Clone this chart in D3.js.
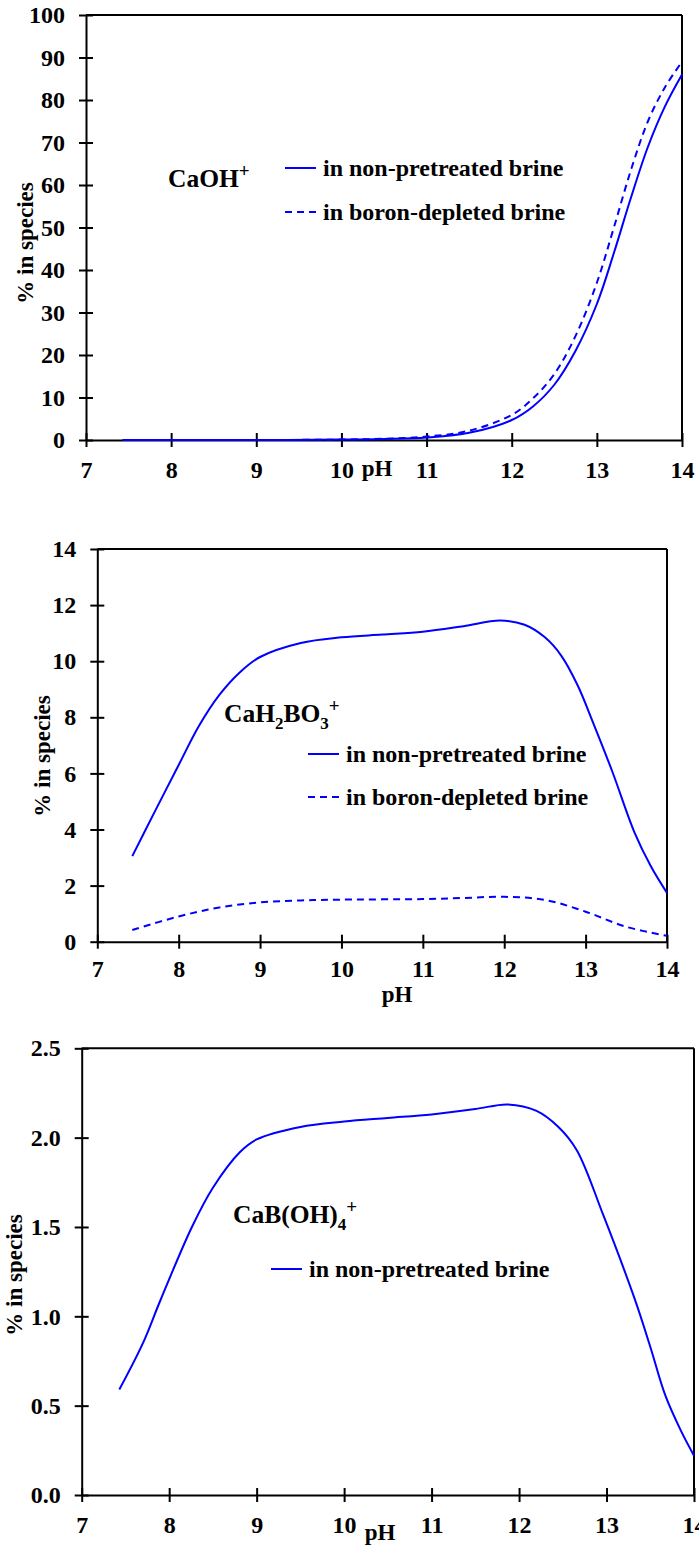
<!DOCTYPE html>
<html>
<head>
<meta charset="utf-8">
<script src="https://cdn.jsdelivr.net/npm/d3@7"></script>
<style>
  body { margin: 0; background: #fff; }
  svg text { font-family: "Liberation Serif", "Times New Roman", serif !important; font-weight: bold; fill: #000; }
</style>
</head>
<body>
<div id="chart"></div>
<script>
// x axis (pH) shared by the three panels
const phTicks = [7, 8, 9, 10, 11, 12, 13, 14];

// panel 1 : CaOH+
const caohPH = [7.43, 8, 9, 10, 10.5, 11, 11.5, 12, 12.25, 12.5, 12.75, 13, 13.2, 13.4, 13.6, 13.8, 14];
const caohNonPretreated = [0, 0, 0, 0.1, 0.25, 0.6, 1.7, 4.7, 7.9, 13, 21, 32, 44, 57, 69, 78.5, 86];
const caohBoronDepleted = [0, 0, 0, 0.1, 0.3, 0.8, 2.2, 5.9, 9.8, 15.5, 24.5, 37, 50, 63.5, 75, 83, 89];
const caohTicks = [0, 10, 20, 30, 40, 50, 60, 70, 80, 90, 100];

// panel 2 : CaH2BO3+
const cah2bo3PH = [7.43, 7.7, 8, 8.25, 8.5, 8.75, 9, 9.5, 10, 10.5, 11, 11.5, 11.95, 12.25, 12.5, 12.7, 12.9, 13.1, 13.33, 13.6, 13.8, 14];
const cah2bo3NonPretreated = [3.05, 4.6, 6.3, 7.7, 8.8, 9.6, 10.15, 10.65, 10.85, 10.95, 11.05, 11.25, 11.45, 11.3, 10.85, 10.2, 9.15, 7.75, 6.05, 3.9, 2.7, 1.74];
const cah2bo3DepPH = [7.43, 8, 8.5, 9, 9.5, 10, 11, 11.5, 12, 12.5, 13, 13.5, 14];
const cah2bo3BoronDepleted = [0.42, 0.9, 1.22, 1.4, 1.47, 1.5, 1.52, 1.56, 1.6, 1.49, 1.07, 0.53, 0.21];
const cah2bo3Ticks = [0, 2, 4, 6, 8, 10, 12, 14];

// panel 3 : CaB(OH)4+
const cabPH = [7.43, 7.7, 7.9, 8.26, 8.5, 8.81, 9, 9.5, 10, 10.5, 11, 11.5, 11.87, 12.2, 12.45, 12.66, 12.96, 13.32, 13.5, 13.67, 13.85, 14];
const cabNonPretreated = [0.59, 0.85, 1.09, 1.5, 1.72, 1.92, 1.99, 2.06, 2.09, 2.11, 2.13, 2.16, 2.186, 2.15, 2.06, 1.93, 1.57, 1.1, 0.83, 0.56, 0.36, 0.22];
const cabTicks = [0, 0.5, 1.0, 1.5, 2.0, 2.5];

const blue = '#0000ff';
const serif = '"Liberation Serif", "Times New Roman", serif';

const panels = [
  {
    left: 86, right: 682, top: 15, bottom: 440, yMax: 100, yTicks: caohTicks, yFormat: d3.format('d'),
    xPad: 14, yLabelX: 25, yLabelY: 243, phX: 377, phY: 476,
    title: [['CaOH', 0], ['+', -1]], titleX: 168, titleY: 187,
    series: [
      { ph: caohPH, values: caohNonPretreated, dash: null, label: 'in non-pretreated brine' },
      { ph: caohPH, values: caohBoronDepleted, dash: '7,5', label: 'in boron-depleted brine' }
    ],
    legendX: 285, legendY: 176, legendGap: 44
  },
  {
    left: 97.3, right: 667, top: 549, bottom: 941.7, yMax: 14, yTicks: cah2bo3Ticks, yFormat: d3.format('d'),
    xPad: 11, yLabelX: 42, yLabelY: 756, phX: 397, phY: 1002,
    title: [['CaH', 0], ['2', 1], ['BO', 0], ['3', 1], ['+', -1]], titleX: 224, titleY: 722,
    series: [
      { ph: cah2bo3PH, values: cah2bo3NonPretreated, dash: null, label: 'in non-pretreated brine' },
      { ph: cah2bo3DepPH, values: cah2bo3BoronDepleted, dash: '7,5', label: 'in boron-depleted brine' }
    ],
    legendX: 308, legendY: 762, legendGap: 43
  },
  {
    left: 81.7, right: 694, top: 1048.3, bottom: 1495, yMax: 2.5, yTicks: cabTicks, yFormat: d3.format('.1f'),
    xPad: 14, yLabelX: 14, yLabelY: 1275, phX: 380, phY: 1540,
    title: [['CaB(OH)', 0], ['4', 1], ['+', -1]], titleX: 233, titleY: 1223,
    series: [
      { ph: cabPH, values: cabNonPretreated, dash: null, label: 'in non-pretreated brine' }
    ],
    legendX: 271, legendY: 1277, legendGap: 44
  }
];

const svg = d3.select('#chart')
  .append('svg')
  .attr('width', 699)
  .attr('height', 1555)
  .attr('font-family', serif);

panels.forEach(p => {
  const x = d3.scaleLinear().domain([7, 14]).range([p.left, p.right]);
  const y = d3.scaleLinear().domain([0, p.yMax]).range([p.bottom, p.top]);
  const g = svg.append('g');

  // top and right side of the box
  g.append('line')
    .attr('x1', p.left).attr('x2', p.right)
    .attr('y1', p.top).attr('y2', p.top)
    .attr('stroke', '#000').attr('stroke-width', 2);
  g.append('line')
    .attr('x1', p.right).attr('x2', p.right)
    .attr('y1', p.top).attr('y2', p.bottom)
    .attr('stroke', '#000').attr('stroke-width', 2);

  // y axis, ticks cross the axis line
  const yAxis = g.append('g')
    .attr('transform', `translate(${p.left},0)`)
    .call(d3.axisLeft(y).tickValues(p.yTicks).tickFormat(p.yFormat).tickSize(7).tickSizeOuter(0).tickPadding(14));
  yAxis.selectAll('.tick line').attr('x1', 7);

  // x axis
  const xAxis = g.append('g')
    .attr('transform', `translate(0,${p.bottom})`)
    .call(d3.axisBottom(x).tickValues(phTicks).tickFormat(d3.format('d')).tickSize(7).tickSizeOuter(0).tickPadding(p.xPad));
  xAxis.selectAll('.tick line').attr('y1', -7);

  [yAxis, xAxis].forEach(a => {
    a.attr('font-size', 24).attr('font-family', serif);
    a.selectAll('text').attr('font-family', serif).attr('font-weight', 'bold');
    a.selectAll('path, line').attr('stroke', '#000').attr('stroke-width', 2);
  });

  // axis titles
  g.append('text')
    .attr('transform', `translate(${p.yLabelX},${p.yLabelY}) rotate(-90)`)
    .attr('text-anchor', 'middle')
    .attr('dy', '0.35em')
    .attr('font-size', 23)
    .text('% in species');

  g.append('text')
    .attr('x', p.phX)
    .attr('y', p.phY)
    .attr('text-anchor', 'middle')
    .attr('font-size', 23)
    .text('pH');

  // curves
  const line = d3.line()
    .x(d => x(d[0]))
    .y(d => y(d[1]))
    .curve(d3.curveCatmullRom.alpha(0.5));

  p.series.forEach((s, i) => {
    g.append('path')
      .datum(d3.zip(s.ph, s.values))
      .attr('fill', 'none')
      .attr('stroke', blue)
      .attr('stroke-width', 2)
      .attr('stroke-dasharray', s.dash)
      .attr('d', line);

    // legend entry
    const ly = p.legendY + i * p.legendGap;
    g.append('line')
      .attr('x1', p.legendX).attr('x2', p.legendX + 31)
      .attr('y1', ly - 8).attr('y2', ly - 8)
      .attr('stroke', blue)
      .attr('stroke-width', 2)
      .attr('stroke-dasharray', s.dash);
    g.append('text')
      .attr('x', p.legendX + 38)
      .attr('y', ly)
      .attr('font-size', 24)
      .text(s.label);
  });

  // species name with sub / superscripts
  const title = g.append('text')
    .attr('x', p.titleX)
    .attr('y', p.titleY)
    .attr('font-size', 25.5);
  let shift = 0;
  p.title.forEach(([txt, pos]) => {
    const target = pos === 1 ? 7 : pos === -1 ? -10 : 0;
    title.append('tspan')
      .attr('dy', target - shift)
      .attr('font-size', pos === 0 ? null : (pos === -1 ? 19 : 17))
      .text(txt);
    shift = target;
  });
});
</script>
</body>
</html>
